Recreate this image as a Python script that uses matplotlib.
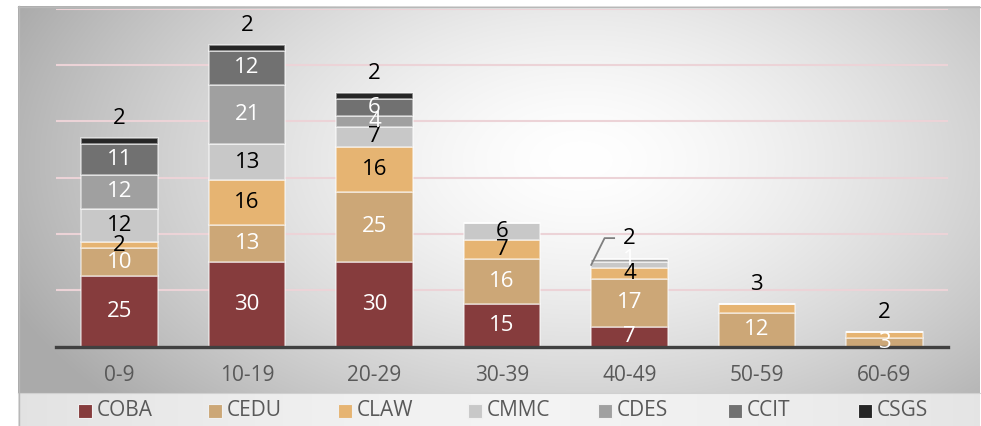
import numpy as np
import matplotlib
matplotlib.use("Agg")
import matplotlib.pyplot as plt
from matplotlib.patches import Rectangle
from matplotlib.lines import Line2D

categories = ["0-9", "10-19", "20-29", "30-39", "40-49", "50-59", "60-69"]
series_names = ["COBA", "CEDU", "CLAW", "CMMC", "CDES", "CCIT", "CSGS"]
COBA = [25, 30, 30, 15, 7, 0, 0]
CEDU = [10, 13, 25, 16, 17, 12, 3]
CLAW = [2, 16, 16, 7, 4, 3, 2]
CMMC = [12, 13, 7, 6, 2, 0, 0]
CDES = [12, 21, 4, 0, 1, 0, 0]
CCIT = [11, 12, 6, 0, 0, 0, 0]
CSGS = [2, 2, 2, 0, 0, 0, 0]
series_values = [COBA, CEDU, CLAW, CMMC, CDES, CCIT, CSGS]

colors = ["#863c3d", "#cca777", "#e6b472", "#c8c8c8", "#a0a0a0", "#717171", "#262626"]
label_colors = ["white", "white", "black", "black", "white", "white", "black"]
hidden_labels = {("40-49", "CDES")}
callout_labels = {("40-49", "CMMC")}

W, H = 981, 426
fig = plt.figure(figsize=(W / 100, H / 100), dpi=100)

axfont = dict(family="Open Sans", weight="normal")
lab = dict(family="Open Sans", fontsize=16)

# ---- background (chart area radial gradient + legend band)
bg = fig.add_axes([0, 0, 1, 1], zorder=0)
bg.set_xlim(0, W)
bg.set_ylim(H, 0)
bg.axis("off")
gx0, gx1, gy0, gy1 = 18, 980, 6, 393
yy, xx = np.mgrid[gy0:gy1, gx0:gx1]
cx, cy = 580, 160
r = np.sqrt(((xx - cx) / 540.0) ** 2 + ((yy - cy) / 320.0) ** 2)
val = 1.0 - 0.27 * np.clip(r, 0, 1.15) ** 1.5
img = np.dstack([val, val, val])
bg.imshow(img, extent=(gx0, gx1, gy1, gy0), aspect="auto", interpolation="bilinear")
# legend band
ly0, ly1 = 393, 426
yy2, xx2 = np.mgrid[ly0:ly1, gx0:gx1]
r2 = np.abs((xx2 - 520) / 520.0)
val2 = 0.955 - 0.07 * np.clip(r2, 0, 1) ** 1.5
img2 = np.dstack([val2, val2, val2])
bg.imshow(img2, extent=(gx0, gx1, ly1, ly0), aspect="auto", interpolation="bilinear")
bg.plot([gx0, gx1], [ly0, ly0], color="#d0d0d0", lw=0.8)
bg.plot([gx0 + 0.5, gx0 + 0.5], [gy0, ly1], color="#b8b8b8", lw=1.0)
bg.plot([gx0, gx1], [gy0 + 0.5, gy0 + 0.5], color="#b8b8b8", lw=1.0)

# ---- main axes
left, right, base, top = 56, 948, 346.5, 8.7
ax = fig.add_axes([left / W, 1 - base / H, (right - left) / W, (base - top) / H], zorder=2)
ax.patch.set_alpha(0)
ax.set_xlim(-0.5, len(categories) - 0.5)
ax.set_ylim(0, 120)
for s in ax.spines.values():
    s.set_visible(False)
ax.set_yticks([20, 40, 60, 80, 100, 120])
ax.yaxis.grid(True, color="#ecd3d7", lw=1.5)
ax.set_axisbelow(True)
ax.tick_params(axis="y", left=False, labelleft=False)

x = np.arange(len(categories))
ax.set_xticks(x)
ax.set_xticklabels(categories, fontsize=15, color="#595959", **axfont)
ax.tick_params(axis="x", length=0, pad=13)

bottom = np.zeros(len(categories))
for si, (name, vals) in enumerate(zip(series_names, series_values)):
    vals = np.array(vals, dtype=float)
    ax.bar(x, vals, 0.6, bottom=bottom, color=colors[si],
           edgecolor=(1, 1, 1, 0.55), lw=1.2, zorder=3)
    for ci, v in enumerate(vals):
        if v <= 0:
            continue
        cat = categories[ci]
        totals_above = sum(series_values[k][ci] for k in range(si + 1, len(series_names)))
        mid = bottom[ci] + v / 2
        if (cat, name) in hidden_labels:
            ax.text(x[ci], mid + 0.3, f"{int(v)}", ha="center", va="center",
                    color=label_colors[si], zorder=3.5, **lab)
            continue
        if (cat, name) in callout_labels:
            top_y = bottom[ci] + sum(series_values[k][ci] for k in range(si, len(series_names)))
            ly = top_y + 7.5
            ax.add_line(Line2D([x[ci] - 0.3, x[ci] - 0.195, x[ci] - 0.12],
                               [mid, ly, ly], color="#7f7f7f", lw=1.3, zorder=5))
            ax.text(x[ci], ly, f"{int(v)}", ha="center", va="center",
                    color=label_colors[si], zorder=5, **lab)
            continue
        if totals_above == 0 and v < 4:
            ax.annotate(f"{int(v)}", xy=(x[ci], bottom[ci] + v), xytext=(0, 14),
                        textcoords="offset points", ha="center", va="center",
                        color="black", zorder=5, **lab)
        else:
            ax.text(x[ci], mid, f"{int(v)}", ha="center", va="center",
                    color=label_colors[si], zorder=5, **lab)
    bottom += vals

ax.axhline(0, color="#404040", lw=2.4, zorder=4, clip_on=False)

# ---- legend (manual, in figure pixels)
leg_x0, leg_dx, leg_yc = 78, 130.0, 410.5
for i, name in enumerate(series_names):
    lx = leg_x0 + i * leg_dx
    bg.add_patch(Rectangle((lx, leg_yc - 6.5), 13.5, 13.5, facecolor=colors[i],
                           edgecolor="#f0f0f0", lw=0.8, zorder=3))
    bg.text(lx + 19, leg_yc, name, ha="left", va="center", fontsize=15,
            color="#595959", zorder=3, **axfont)

fig.savefig("out.png", dpi=100)
